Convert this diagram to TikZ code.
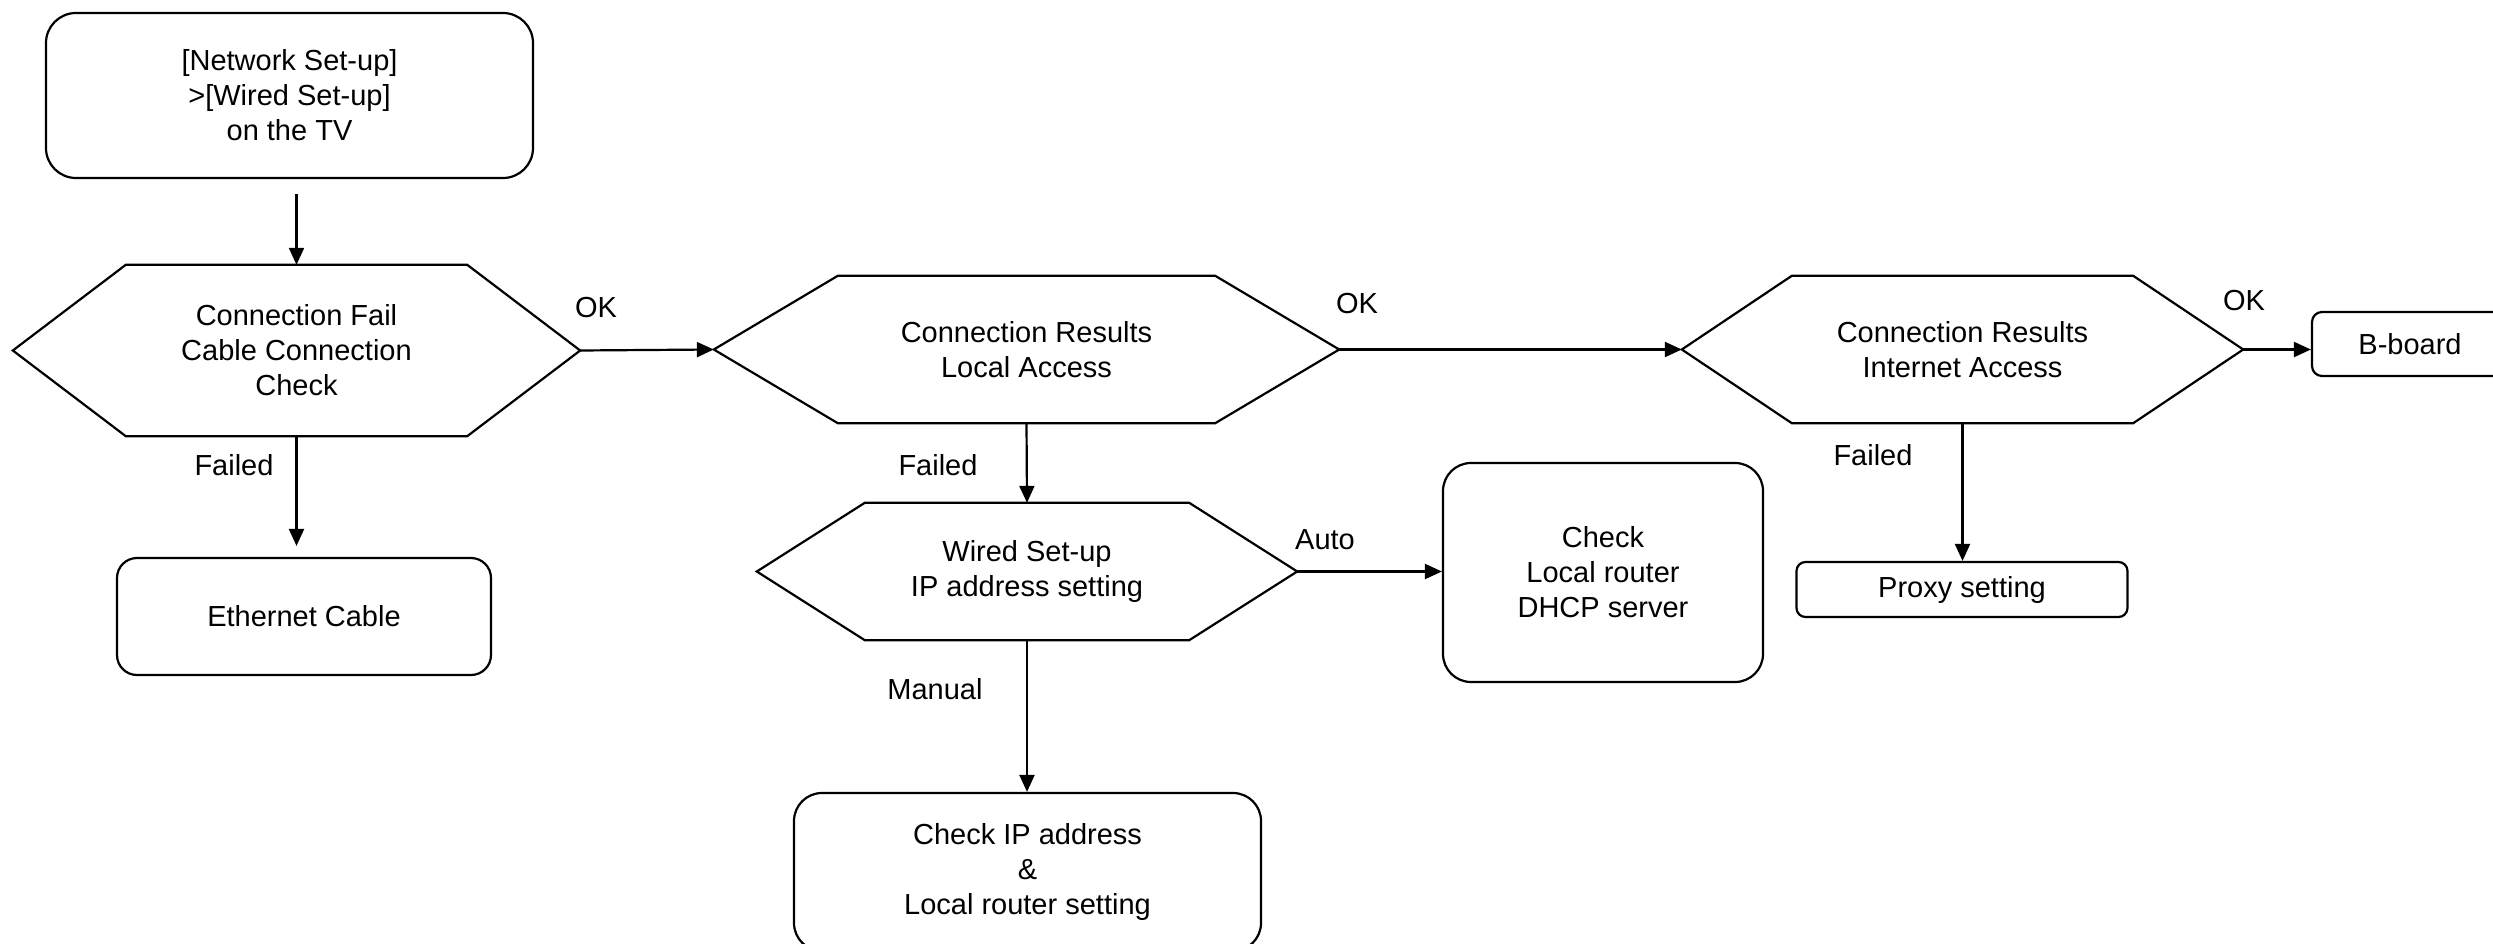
\documentclass[tikz,border=0pt]{standalone}
\usepackage{fontspec}
\setmainfont{Liberation Sans}
\usetikzlibrary{arrows.meta}
\newcommand\hexoutline[2]{\draw[shapeline] (#1.west) -- ([xshift=#2]#1.north west) -- ([xshift=-#2]#1.north east) -- (#1.east) -- ([xshift=-#2]#1.south east) -- ([xshift=#2]#1.south west) -- cycle;}
\begin{document}
\begin{tikzpicture}[x=1pt,y=-1pt,
  every node/.style={font=\fontsize{29}{35}\selectfont, align=center, inner sep=0pt},
  box/.style={draw, line width=2.2pt, rounded corners=#1},
  shapeline/.style={line width=2.2pt, line join=miter},
  arr/.style={line width=2.2pt, -{Triangle[length=17pt,width=15pt]}}]
\useasboundingbox (0,0) rectangle (2493,944);
\fill[white] (0,0) rectangle (2493,944);

% boxes
\node[box=30pt, minimum width=487pt, minimum height=165pt] (top) at (289.5,95.5) {[Network Set-up]\\>[Wired Set-up]\\on the TV};
\node[box=20pt, minimum width=374pt, minimum height=117pt] (eth) at (304,616.5) {Ethernet Cable};
\node[box=28pt, minimum width=320pt, minimum height=219pt] (chk) at (1603,572.5) {Check\\Local router\\DHCP server};
\node[box=28pt, minimum width=467pt, minimum height=158pt] (ip) at (1027.5,872) {Check IP address\\\&\\Local router setting};
\node[box=9pt, minimum width=331pt, minimum height=55pt] (px) at (1962,589.5) {Proxy setting};
\node[box=10pt, minimum width=196pt, minimum height=64pt] (bb) at (2410,344) {B-board};

% hexagons
\node[minimum width=567pt, minimum height=171pt] (h1) at (296.5,350.5) {Connection Fail\\Cable Connection\\Check};
\hexoutline{h1}{113pt}
\node[minimum width=625pt, minimum height=147pt] (h2) at (1026.5,349.5) {Connection Results\\Local Access};
\hexoutline{h2}{124pt}
\node[minimum width=561pt, minimum height=147pt] (h3) at (1962.5,349.5) {Connection Results\\Internet Access};
\hexoutline{h3}{110pt}
\node[minimum width=540pt, minimum height=137pt] (h4) at (1027,571.5) {Wired Set-up\\IP address setting};
\hexoutline{h4}{108pt}

% labels
\node (ok1) at (596,308) {OK};
\node (ok2) at (1357,304) {OK};
\node (ok3) at (2244,301) {OK};
\node (f1) at (234,465) {Failed};
\node (f2) at (938,465) {Failed};
\node (f3) at (1873,455) {Failed};
\node (auto) at (1325,540) {Auto};
\node (man) at (935,689) {Manual};

% connectors
\draw[arr, shorten <=15pt] (h1.north |- top.south) -- (h1.north);
\draw[arr, shorten >=11pt] (h1.south) -- (h1.south |- eth.north);
\draw[arr] (h1.east) -- (h2.west);
\draw[arr] (h2.east) -- (h3.west);
\draw[arr] (h3.east) -- (h3.east -| bb.west);
\draw[arr] (h2.south) -- (h4.north);
\draw[arr] (h4.east) -- (h4.east -| chk.west);
\draw[arr] (h4.south) -- (h4.south |- ip.north);
\draw[arr] (h3.south) -- (h3.south |- px.north);
\end{tikzpicture}
\end{document}
